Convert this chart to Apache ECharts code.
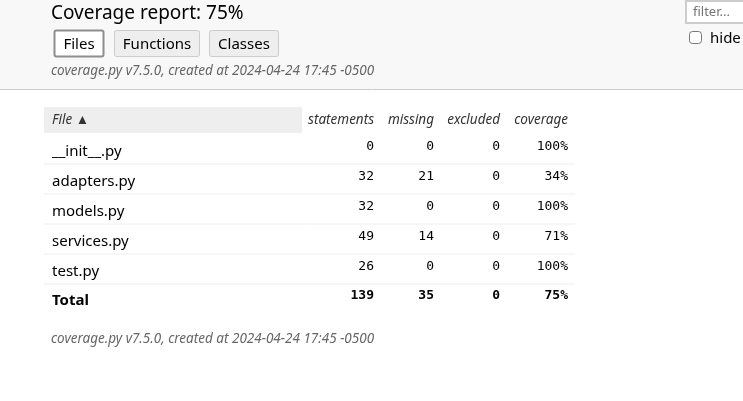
<!DOCTYPE html>
<html>
<head>
<meta charset="utf-8">
<script src="https://cdn.jsdelivr.net/npm/echarts@6/dist/echarts.min.js"></script>
<style>
html, body { margin: 0; padding: 0; background: #fff; }
#report { width: 743px; height: 401px; }
</style>
</head>
<body>
<div id="report"></div>
<script>
// table data
var files = ['__init__.py', 'adapters.py', 'models.py', 'services.py', 'test.py'];
var statements = [0, 32, 32, 49, 26];
var missing = [0, 21, 0, 14, 0];
var excluded = [0, 0, 0, 0, 0];
var coverage = ['100%', '34%', '100%', '71%', '100%'];
var totals = ['139', '35', '0', '75%'];
var columns = ['statements', 'missing', 'excluded', 'coverage'];
var navButtons = ['Files', 'Functions', 'Classes'];
var title = 'Coverage report: 75%';
var metaText = 'coverage.py v7.5.0, created at 2024-04-24 17:45 -0500';

var SANS = '"Noto Sans", "Open Sans", sans-serif';
var MONO = '"DejaVu Sans Mono", "Liberation Mono", monospace';

function txt(x, y, s, opt) {
    opt = opt || {};
    return {
        type: 'text',
        x: x, y: y,
        style: {
            text: s,
            fill: opt.fill || '#000',
            font: opt.font || ('15px ' + SANS),
            align: opt.align || 'left',
            verticalAlign: 'middle'
        }
    };
}

var els = [];
// header band
els.push({ type: 'rect', shape: { x: 0, y: 0, width: 743, height: 89 }, style: { fill: '#f8f8f8' } });
els.push({ type: 'line', shape: { x1: 0, y1: 89.5, x2: 743, y2: 89.5 }, style: { stroke: '#cccccc', lineWidth: 1 } });
els.push(txt(51, 14, title, { font: '19px ' + SANS }));

// nav buttons
var btnX = [54, 114, 209];
var btnW = [49, 85, 69];
navButtons.forEach(function (b, i) {
    var active = i == 0;
    els.push({
        type: 'rect',
        shape: { x: btnX[i] + 0.5, y: 30.5, width: btnW[i], height: 26, r: 2 },
        style: { fill: active ? '#ffffff' : '#eeeeee', stroke: active ? '#8e8e8e' : '#cccccc', lineWidth: active ? 2 : 1 }
    });
    els.push(txt(btnX[i] + btnW[i] / 2 + 0.5, 44.5, b, { font: '15px ' + SANS, align: 'center' }));
});
els.push(txt(51, 71, metaText, { font: 'italic 13.5px ' + SANS, fill: '#666666' }));

// filter box + checkbox
els.push({ type: 'rect', shape: { x: 686, y: 1, width: 70, height: 22 }, style: { fill: '#ffffff', stroke: '#cccccc', lineWidth: 2 } });
els.push(txt(693, 12, 'filter...', { font: '13px ' + SANS, fill: '#757575' }));
els.push({ type: 'rect', shape: { x: 689.5, y: 31.5, width: 12, height: 12, r: 3 }, style: { fill: '#ffffff', stroke: '#767676', lineWidth: 1 } });
els.push(txt(710, 38.5, 'hide covered', { font: '15px ' + SANS, fill: '#000' }));

// table header
var colRight = [374, 434, 500, 568];
els.push({ type: 'rect', shape: { x: 44, y: 107, width: 258, height: 26 }, style: { fill: '#eeeeee' } });
els.push(txt(52, 120.5, 'File \u25B2', { font: 'italic 13.5px ' + SANS, fill: '#333333' }));
columns.forEach(function (c, j) {
    els.push(txt(colRight[j], 120.5, c, { font: 'italic 13.5px ' + SANS, fill: '#333333', align: 'right' }));
});

// rows
var rowH = 30, firstRow = 150;
files.forEach(function (f, i) {
    var cy = firstRow + i * rowH;
    els.push(txt(52, cy + 1.5, f));
    var vals = [String(statements[i]), String(missing[i]), String(excluded[i]), coverage[i]];
    vals.forEach(function (v, j) {
        els.push(txt(colRight[j], cy - 3, v, { font: '13px ' + MONO, align: 'right' }));
    });
    els.push({ type: 'line', shape: { x1: 44, y1: cy + 14, x2: 575, y2: cy + 14 }, style: { stroke: '#eeeeee', lineWidth: 1 } });
});
var totY = firstRow + files.length * rowH - 1;
els.push(txt(52, totY + 1.5, 'Total', { font: 'bold 15px ' + SANS }));
totals.forEach(function (v, j) {
    els.push(txt(colRight[j], totY - 3, v, { font: 'bold 13px ' + MONO, align: 'right' }));
});

els.push(txt(51, 339, metaText, { font: 'italic 13.5px ' + SANS, fill: '#666666' }));

var chart = echarts.init(document.getElementById('report'), null, { renderer: 'canvas' });
chart.setOption({
    animation: false,
    graphic: { elements: els }
});
</script>
</body>
</html>
